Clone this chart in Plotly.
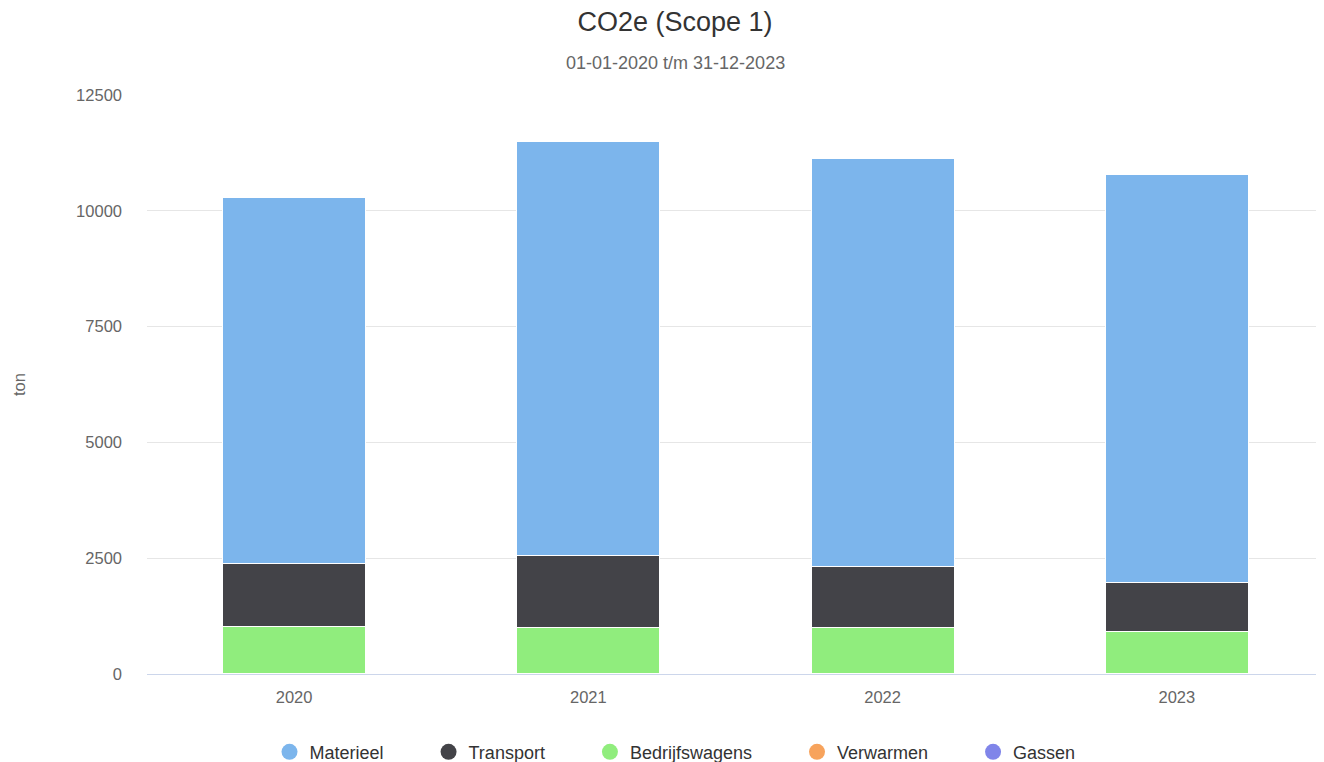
import plotly.graph_objects as go

years = ["2020", "2021", "2022", "2023"]
materieel = [7902, 8938, 8809, 8808]
transport = [1339, 1555, 1317, 1037]
bedrijfswagens = [1030, 988, 988, 922]
verwarmen = [4, 4, 4, 4]
gassen = [2, 2, 2, 2]
y_ticks = [0, 2500, 5000, 7500, 10000, 12500]

series = [
    ("Materieel", materieel, "#7cb5ec"),
    ("Transport", transport, "#434348"),
    ("Bedrijfswagens", bedrijfswagens, "#90ed7d"),
    ("Verwarmen", verwarmen, "#f7a35c"),
    ("Gassen", gassen, "#8085e9"),
]

fig = go.Figure()
# stack bottom-up (last series at bottom), legend in original order
for name, vals, col in reversed(series):
    fig.add_trace(go.Bar(
        x=years, y=vals, name=name,
        marker=dict(color=col, line=dict(color="white", width=1)),
        showlegend=False, legendgroup=name,
    ))
pad = "\u00a0" * 8
for rank, (name, vals, col) in enumerate(series):
    label = name + (pad if rank < len(series) - 1 else "")
    fig.add_trace(go.Scatter(
        x=[None], y=[None], mode="markers", name=label, legendgroup=name,
        marker=dict(color=col, size=17, symbol="circle"), legendrank=rank + 1,
    ))

# page body has an 8px margin, so the figure is sized/offset accordingly
W, H = 1316, 754
L, T, PW, PH = 139, 87, 1177, 579
font = "Liberation Sans, Arial, sans-serif"
fig.update_layout(
    barmode="stack",
    bargap=0.514,
    width=W, height=H,
    margin=dict(l=L, r=0, t=T, b=H - T - PH, autoexpand=False),
    paper_bgcolor="white", plot_bgcolor="white",
    font=dict(family=font, color="#666666"),
    title=dict(
        text="CO2e (Scope 1)",
        x=667 / W, xanchor="center", xref="container",
        y=1 - 14 / H, yanchor="middle", yref="container",
        font=dict(size=27, color="#333333", family=font),
    ),
    annotations=[dict(
        text="01-01-2020 t/m 31-12-2023", showarrow=False,
        x=(667 - L) / PW, xref="paper", xanchor="center",
        y=1 + 32 / PH, yref="paper", yanchor="middle",
        font=dict(size=18, color="#666666", family=font),
    )],
    xaxis=dict(
        showline=True, linecolor="#ccd6eb", linewidth=1, showgrid=False,
        tickfont=dict(size=16.5, color="#666666"), ticks="", ticklabelstandoff=8,
        automargin=False,
    ),
    yaxis=dict(
        range=[0, 12500], tickvals=y_ticks, ticktext=[str(v) for v in y_ticks],
        gridcolor="#e6e6e6", zeroline=False, showline=False,
        tickfont=dict(size=16.5, color="#666666"), ticklabelstandoff=24,
        title=dict(text="ton", font=dict(size=16.5, color="#666666"), standoff=46),
        automargin=False,
    ),
    legend=dict(
        orientation="h", x=667 / W, xref="container", xanchor="center",
        y=-0.103, yanchor="top",
        font=dict(size=18, color="#333333"), traceorder="normal",
    ),
)

fig.write_html("out.html")
